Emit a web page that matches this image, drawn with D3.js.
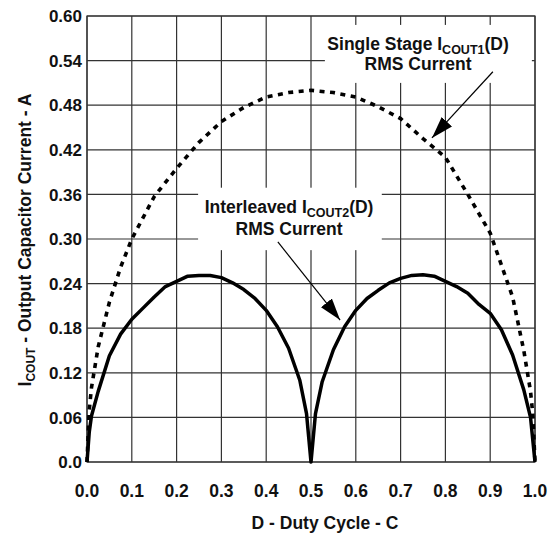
<!DOCTYPE html>
<html>
<head>
<meta charset="utf-8">
<script src="https://cdn.jsdelivr.net/npm/d3@7.9.0/dist/d3.min.js"></script>
<style>
  html, body { margin: 0; padding: 0; background: #fff; }
  text { font-family: "Liberation Sans", Arial, sans-serif; font-weight: bold; fill: #111; }
</style>
</head>
<body>
<div id="chart"></div>
<script>
// Tick labels
const xTicks = [0, 0.1, 0.2, 0.3, 0.4, 0.5, 0.6, 0.7, 0.8, 0.9, 1.0];
const xTickLabels = ['0.0', '0.1', '0.2', '0.3', '0.4', '0.5', '0.6', '0.7', '0.8', '0.9', '1.0'];
const yTicks = [0, 0.06, 0.12, 0.18, 0.24, 0.30, 0.36, 0.42, 0.48, 0.54, 0.60];
const yTickLabels = ['0.0', '0.06', '0.12', '0.18', '0.24', '0.30', '0.36', '0.42', '0.48', '0.54', '0.60'];

// Single stage I_COUT1(D)
const singleDuty = [0, 0.005, 0.01, 0.025, 0.05, 0.075, 0.1, 0.15, 0.2, 0.25, 0.3, 0.35, 0.4, 0.45, 0.5,
  0.55, 0.6, 0.65, 0.7, 0.75, 0.8, 0.85, 0.9, 0.925, 0.95, 0.975, 0.99, 0.995, 1.0];
const singleRms = [0, 0.07, 0.10, 0.155, 0.215, 0.262, 0.300, 0.357, 0.395, 0.430, 0.458, 0.477, 0.491, 0.497, 0.500,
  0.497, 0.491, 0.478, 0.462, 0.435, 0.410, 0.360, 0.308, 0.265, 0.222, 0.150, 0.095, 0.065, 0];

// Interleaved I_COUT2(D)
const interDuty = [0, 0.005, 0.01, 0.025, 0.05, 0.075, 0.1, 0.125, 0.15, 0.175, 0.2, 0.225, 0.25, 0.275, 0.3,
  0.325, 0.35, 0.375, 0.4, 0.425, 0.45, 0.475, 0.49, 0.5,
  0.51, 0.525, 0.55, 0.575, 0.6, 0.625, 0.65, 0.675, 0.7, 0.725, 0.75, 0.775, 0.8, 0.825, 0.85, 0.875,
  0.9, 0.925, 0.95, 0.975, 0.99, 1.0];
const interRms = [0, 0.04, 0.062, 0.095, 0.143, 0.172, 0.192, 0.207, 0.222, 0.236, 0.243, 0.250, 0.251, 0.251, 0.248,
  0.241, 0.232, 0.220, 0.204, 0.182, 0.153, 0.110, 0.065, 0,
  0.065, 0.108, 0.151, 0.182, 0.204, 0.220, 0.231, 0.241, 0.247, 0.251, 0.252, 0.250, 0.243, 0.236, 0.227, 0.212,
  0.200, 0.178, 0.144, 0.097, 0.060, 0];

const W = 548, H = 536;
const margin = { left: 87, right: 13, top: 16, bottom: 74 };

const svg = d3.select('#chart').append('svg')
  .attr('width', W).attr('height', H);
svg.append('rect').attr('width', W).attr('height', H).attr('fill', '#fff');

const x = d3.scaleLinear().domain([0, 1]).range([margin.left, W - margin.right]);
const y = d3.scaleLinear().domain([0, 0.6]).range([H - margin.bottom, margin.top]);

// grid
const grid = svg.append('g').attr('stroke', '#333').attr('stroke-width', 1.2);
grid.selectAll('line.v').data(xTicks).join('line')
  .attr('class', 'v')
  .attr('x1', d => x(d)).attr('x2', d => x(d))
  .attr('y1', y(0)).attr('y2', y(0.6));
grid.selectAll('line.h').data(yTicks).join('line')
  .attr('class', 'h')
  .attr('x1', x(0)).attr('x2', x(1))
  .attr('y1', d => y(d)).attr('y2', d => y(d));

// white boxes behind the notes
const boxes = [
  { x0: 0.531, x1: 0.993, y0: 0.588, y1: 0.510 },
  { x0: 0.248, x1: 0.658, y0: 0.369, y1: 0.285 }
];
svg.selectAll('rect.box').data(boxes).join('rect')
  .attr('class', 'box')
  .attr('x', d => x(d.x0)).attr('y', d => y(d.y0))
  .attr('width', d => x(d.x1) - x(d.x0))
  .attr('height', d => y(d.y1) - y(d.y0))
  .attr('fill', '#fff');

// plot border (left and right edges stay visible)
svg.append('rect')
  .attr('x', x(0)).attr('y', y(0.6))
  .attr('width', x(1) - x(0)).attr('height', y(0) - y(0.6))
  .attr('fill', 'none').attr('stroke', '#333').attr('stroke-width', 1.2);

// curves
const line = d3.line().x(d => x(d[0])).y(d => y(d[1]));

svg.append('path')
  .datum(d3.zip(singleDuty, singleRms))
  .attr('d', line)
  .attr('fill', 'none')
  .attr('stroke', '#000')
  .attr('stroke-width', 3.6)
  .attr('stroke-dasharray', '5,5.5');

svg.append('path')
  .datum(d3.zip(interDuty, interRms))
  .attr('d', line)
  .attr('fill', 'none')
  .attr('stroke', '#000')
  .attr('stroke-width', 3.5)
  .attr('stroke-linejoin', 'round');

// tick labels
svg.selectAll('text.xt').data(xTicks).join('text')
  .attr('class', 'xt')
  .attr('x', d => x(d))
  .attr('y', 497)
  .attr('text-anchor', 'middle')
  .style('font-size', '17.5px')
  .text((d, i) => xTickLabels[i]);

svg.selectAll('text.yt').data(yTicks).join('text')
  .attr('class', 'yt')
  .attr('x', x(0) - 5)
  .attr('y', d => y(d))
  .attr('dy', '0.36em')
  .attr('text-anchor', 'end')
  .style('font-size', '17px')
  .text((d, i) => yTickLabels[i]);

// axis titles
svg.append('text')
  .attr('x', 325).attr('y', 529)
  .attr('text-anchor', 'middle')
  .style('font-size', '17.5px')
  .text('D - Duty Cycle - C');

const yt = svg.append('text')
  .attr('transform', 'translate(31,240) rotate(-90)')
  .attr('text-anchor', 'middle')
  .style('font-size', '17.5px');
yt.append('tspan').text('I');
yt.append('tspan').attr('dy', 4).style('font-size', '12px').text('COUT');
yt.append('tspan').attr('dy', -4).text(' - Output Capacitor Current - A');

// notes
function note(cx, line1Y, line2Y, sub) {
  const t1 = svg.append('text')
    .attr('x', x(cx)).attr('y', y(line1Y))
    .attr('text-anchor', 'middle')
    .style('font-size', '17.5px');
  t1.append('tspan').text(sub[0]);
  t1.append('tspan').attr('dy', 4).style('font-size', '12.5px').text(sub[1]);
  t1.append('tspan').attr('dy', -4).text('(D)');
  svg.append('text')
    .attr('x', x(cx)).attr('y', y(line2Y))
    .attr('text-anchor', 'middle')
    .style('font-size', '17.5px')
    .text('RMS Current');
}
note(0.739, 0.554, 0.527, ['Single Stage I', 'COUT1']);
note(0.451, 0.335, 0.306, ['Interleaved I', 'COUT2']);

// arrows
svg.append('defs').append('marker')
  .attr('id', 'head')
  .attr('viewBox', '0 0 22 14')
  .attr('refX', 22).attr('refY', 7)
  .attr('markerWidth', 22).attr('markerHeight', 14)
  .attr('markerUnits', 'userSpaceOnUse')
  .attr('orient', 'auto')
  .append('path')
  .attr('d', 'M0,0 L22,7 L0,14 Z')
  .attr('fill', '#000');

const arrows = [
  { from: [0.906, 0.525], to: [0.770, 0.436] },
  { from: [0.426, 0.296], to: [0.565, 0.191] }
];
svg.selectAll('line.arrow').data(arrows).join('line')
  .attr('class', 'arrow')
  .attr('x1', d => x(d.from[0])).attr('y1', d => y(d.from[1]))
  .attr('x2', d => x(d.to[0])).attr('y2', d => y(d.to[1]))
  .attr('stroke', '#000')
  .attr('stroke-width', 1.2)
  .attr('marker-end', 'url(#head)');
</script>
</body>
</html>
